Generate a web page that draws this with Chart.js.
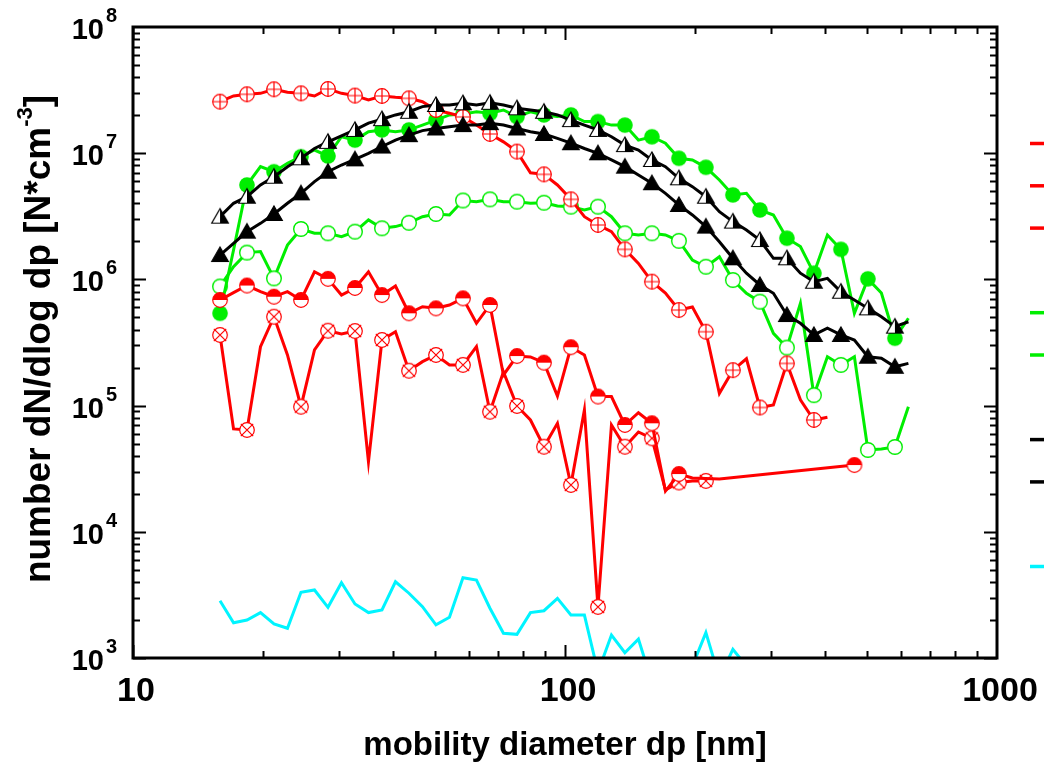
<!DOCTYPE html>
<html>
<head>
<meta charset="utf-8">
<script src="https://cdn.jsdelivr.net/npm/chart.js@4.4.1/dist/chart.umd.min.js"></script>
<style>
  html, body { margin: 0; padding: 0; background: #fff; }
  #wrap { width: 1044px; height: 769px; }
</style>
</head>
<body>
<div id="wrap"><canvas id="chartSize" width="1044" height="769"></canvas></div>
<script>
// mobility diameter of each size channel [nm]
const diameters = [15.9, 17.09, 18.36, 19.73, 21.2, 22.78, 24.48, 26.31, 28.27, 30.38,
  32.65, 35.08, 37.7, 40.51, 43.53, 46.78, 50.27, 54.02, 58.05, 62.38,
  67.03, 72.03, 77.41, 83.18, 89.39, 96.05, 103.2, 110.9, 119.2, 128.1,
  137.6, 147.9, 158.9, 170.8, 183.5, 197.2, 211.9, 227.7, 244.7, 263.0,
  282.6, 303.7, 326.3, 350.7, 376.8, 405.0, 435.2, 467.6, 502.5, 540.0,
  580.3, 623.6];

// dN/dlog dp per channel, one array per run (null = no value)
const redPlusCircle = [2.56e7, 2.84e7, 2.93e7, 2.98e7, 3.21e7, 3.04e7, 2.98e7, 2.84e7, 3.23e7, 2.98e7,
  2.86e7, 2.64e7, 2.84e7, 2.77e7, 2.72e7, 2.56e7, 2.20e7, 2.07e7, 1.94e7, 1.67e7,
  1.42e7, 1.23e7, 1.03e7, 7.0e6, 6.8e6, 5.6e6, 4.31e6, 3.14e6, 2.70e6, 2.39e6,
  1.73e6, 1.34e6, 9.6e5, 7.8e5, 5.72e5, 6.05e5, 3.85e5, 1.25e5, 1.91e5, 2.35e5,
  9.66e4, 1.01e5, 2.16e5, 1.11e5, 7.69e4, 8.08e4];
const redHalfCircle = [6.87e5, 7.85e5, 8.94e5, 7.99e5, 7.29e5, 7.99e5, 6.87e5, 1.15e6, 1.01e6, 7.52e5,
  8.55e5, 1.15e6, 7.52e5, 8.86e5, 5.39e5, 6.08e5, 5.90e5, 6.27e5, 7.08e5, 4.49e5,
  6.27e5, 1.75e5, 2.47e5, 2.43e5, 2.19e5, 1.19e5, 2.90e5, 2.52e5, 1.18e5, 1.18e5,
  7.02e4, 8.78e4, 7.24e4, 2.10e4, 2.87e4, 2.67e4, null, 2.62e4, null, null,
  null, null, null, null, null, null, null, 3.38e4];
const redXCircle = [3.63e5, 6.53e4, 6.41e4, 2.93e5, 5.06e5, 2.52e5, 9.80e4, 2.76e5, 3.92e5, 3.69e5,
  3.90e5, 3.59e4, 3.31e5, 3.85e5, 1.89e5, 2.23e5, 2.52e5, 2.10e5, 2.10e5, 2.93e5,
  8.94e4, 1.85e5, 9.93e4, 7.69e4, 4.72e4, 7.24e4, 2.35e4, 9.23e4, 2.54e3, 7.02e4,
  4.72e4, 6.18e4, 5.51e4, 2.14e4, 2.46e4, 2.53e4, 2.53e4];
const greenDot = [5.39e5, 1.71e6, 5.60e6, 7.82e6, 7.13e6, 8.32e6, 9.38e6, 1.06e7, 9.50e6, 1.35e7,
  1.27e7, 1.48e7, 1.53e7, 1.48e7, 1.53e7, 1.67e7, 1.83e7, 2.01e7, 2.04e7, 2.13e7,
  2.07e7, 2.20e7, 1.95e7, 2.13e7, 2.01e7, 1.95e7, 2.01e7, 1.78e7, 1.78e7, 1.67e7,
  1.67e7, 1.27e7, 1.35e7, 1.20e7, 9.11e6, 8.84e6, 7.73e6, 6.13e6, 4.67e6, 4.81e6,
  3.55e6, 3.24e6, 2.12e6, 1.82e6, 1.12e6, 2.25e6, 1.73e6, 5.39e5, 1.01e6, 7.80e5,
  3.42e5, 4.92e5];
const greenOpen = [8.79e5, 1.26e6, 1.63e6, 1.66e6, 1.02e6, 1.87e6, 2.51e6, 2.32e6, 2.32e6, 2.18e6,
  2.39e6, 2.96e6, 2.54e6, 2.62e6, 2.81e6, 3.14e6, 3.30e6, 3.24e6, 4.22e6, 4.13e6,
  4.31e6, 4.13e6, 4.13e6, 4.01e6, 4.05e6, 3.82e6, 3.77e6, 3.55e6, 3.77e6, 3.14e6,
  2.32e6, 2.25e6, 2.32e6, 2.25e6, 2.02e6, 1.42e6, 1.26e6, 1.51e6, 9.89e5, 7.76e5,
  6.66e5, 3.74e5, 2.88e5, 6.47e5, 1.21e5, 2.44e5, 2.10e5, 2.44e5, 4.45e4, 4.53e4,
  4.70e4, 9.80e4];
const blackHalfTri = [3.14e6, 4.01e6, 4.52e6, 5.60e6, 6.51e6, 7.82e6, 9.11e6, 1.09e7, 1.23e7, 1.37e7,
  1.53e7, 1.73e7, 1.86e7, 2.01e7, 2.13e7, 2.34e7, 2.41e7, 2.41e7, 2.49e7, 2.41e7,
  2.51e7, 2.41e7, 2.27e7, 2.20e7, 2.13e7, 2.01e7, 1.83e7, 1.67e7, 1.53e7, 1.35e7,
  1.16e7, 1.06e7, 8.84e6, 7.82e6, 6.33e6, 5.43e6, 4.52e6, 3.44e6, 2.87e6, 2.46e6,
  2.05e6, 1.47e6, 1.47e6, 1.12e6, 9.59e5, 1.02e6, 7.99e5, 6.87e5, 5.90e5, 5.06e5,
  4.22e5, 4.62e5];
const blackTri = [1.56e6, 1.93e6, 2.39e6, 2.78e6, 3.30e6, 4.01e6, 4.81e6, 5.95e6, 7.13e6, 8.06e6,
  8.94e6, 9.98e6, 1.13e7, 1.27e7, 1.39e7, 1.51e7, 1.57e7, 1.62e7, 1.67e7, 1.67e7,
  1.73e7, 1.67e7, 1.57e7, 1.48e7, 1.42e7, 1.31e7, 1.20e7, 1.09e7, 9.98e6, 8.84e6,
  7.82e6, 6.72e6, 5.78e6, 4.81e6, 3.89e6, 3.24e6, 2.62e6, 1.99e6, 1.47e6, 1.12e6,
  9.03e5, 7.76e5, 5.22e5, 4.49e5, 3.63e5, 4.10e5, 3.63e5, 3.31e5, 2.44e5, 2.37e5,
  2.03e5, 2.16e5];
const cyanLine = [2.84e3, 1.90e3, 2.00e3, 2.29e3, 1.86e3, 1.72e3, 3.32e3, 3.46e3, 2.52e3, 3.95e3,
  2.68e3, 2.29e3, 2.40e3, 4.02e3, 3.26e3, 2.55e3, 1.83e3, 2.10e3, 4.33e3, 4.15e3,
  2.48e3, 1.57e3, 1.54e3, 2.29e3, 2.37e3, 2.97e3, 2.19e3, 2.19e3, 774, 1.52e3,
  1.10e3, 1.41e3, 645, 509, 557, 864, 1.59e3, 694, 1.17e3, 864];

// axis ticks
const xTickValues = [10, 100, 1000];
const xTickLabels = ['10', '100', '1000'];
const yTickValues = [1e3, 1e4, 1e5, 1e6, 1e7, 1e8];
const yTickExponents = ['3', '4', '5', '6', '7', '8'];

const FONT = "'Liberation Sans', Arial, Helvetica, sans-serif";
const RED = '#ff0000', GREEN = '#00ee00', BLACK = '#000000', CYAN = '#00f4ff';

// marker images
function marker(kind) {
  const c = document.createElement('canvas');
  c.width = 20; c.height = 20;
  const g = c.getContext('2d');
  g.lineWidth = 1.2;
  const circle = () => { g.beginPath(); g.arc(10, 10, 7.3, 0, Math.PI * 2); };
  const tri = () => { g.beginPath(); g.moveTo(10, 2); g.lineTo(18.3, 16.5); g.lineTo(1.7, 16.5); g.closePath(); };
  if (kind === 'plus' || kind === 'x') {
    g.strokeStyle = RED; g.fillStyle = '#fff';
    circle(); g.fill(); g.stroke();
    g.beginPath();
    if (kind === 'plus') { g.moveTo(10, 2.5); g.lineTo(10, 17.5); g.moveTo(2.5, 10); g.lineTo(17.5, 10); }
    else { g.moveTo(3.8, 3.8); g.lineTo(16.2, 16.2); g.moveTo(16.2, 3.8); g.lineTo(3.8, 16.2); }
    g.stroke();
  } else if (kind === 'half') {
    g.strokeStyle = RED; g.fillStyle = '#fff';
    circle(); g.fill();
    g.fillStyle = RED;
    g.beginPath(); g.arc(10, 10, 7.3, Math.PI, Math.PI * 2); g.closePath(); g.fill();
    circle(); g.stroke();
  } else if (kind === 'dot') {
    g.fillStyle = GREEN; g.beginPath(); g.arc(10, 10, 7.8, 0, Math.PI * 2); g.fill();
  } else if (kind === 'open') {
    g.strokeStyle = GREEN; g.fillStyle = '#fff'; g.lineWidth = 1.4;
    circle(); g.fill(); g.stroke();
  } else if (kind === 'halftri') {
    g.fillStyle = '#fff'; tri(); g.fill();
    g.save(); g.beginPath(); g.rect(10, 0, 10, 20); g.clip();
    g.fillStyle = BLACK; tri(); g.fill(); g.restore();
    g.strokeStyle = BLACK; tri(); g.stroke();
  } else if (kind === 'tri') {
    g.fillStyle = BLACK; tri(); g.fill();
    g.strokeStyle = BLACK; g.stroke();
  }
  return c;
}

function series(label, values, color, kind, order, legendRow, extraMark) {
  return {
    label: label,
    data: diameters.map((d, i) => ({ x: d, y: values[i] === undefined ? null : values[i] })),
    borderColor: color,
    backgroundColor: color,
    borderWidth: 3,
    tension: 0,
    spanGaps: true,
    pointStyle: kind ? marker(kind) : 'circle',
    pointRadius: ctx => (kind && (ctx.dataIndex % 2 === 0 || ctx.dataIndex === extraMark)) ? 8 : 0,
    order: order,
    legendRow: legendRow
  };
}

const datasets = [
  series('run 1', redPlusCircle, RED, 'plus', 2, 0),
  series('run 2', redHalfCircle, RED, 'half', 2, 1, 47),
  series('run 3', redXCircle, RED, 'x', 2, 2),
  series('run 4', greenDot, GREEN, 'dot', 3, 4),
  series('run 5', greenOpen, GREEN, 'open', 3, 5),
  series('run 6', blackHalfTri, BLACK, 'halftri', 1, 7),
  series('run 7', blackTri, BLACK, 'tri', 1, 8),
  series('run 8', cyanLine, CYAN, null, 4, 10)
];

// frame, inward ticks, tick labels, axis titles and the clipped legend strokes
const axesPlugin = {
  id: 'axesPlugin',
  afterDraw(chart) {
    const ctx = chart.ctx;
    const a = chart.chartArea;
    const xs = chart.scales.x, ys = chart.scales.y;
    ctx.save();
    ctx.strokeStyle = '#000';
    ctx.lineWidth = 2;
    ctx.beginPath();
    for (let dec = 10; dec < 1000; dec *= 10) {
      for (let m = 1; m <= 9; m++) {
        const px = Math.round(xs.getPixelForValue(dec * m)) + 0.5;
        const len = m === 1 ? 13 : 7;
        ctx.moveTo(px, a.bottom); ctx.lineTo(px, a.bottom - len);
        ctx.moveTo(px, a.top); ctx.lineTo(px, a.top + len);
      }
    }
    for (let dec = 1e3; dec < 1e8; dec *= 10) {
      for (let m = 1; m <= 9; m++) {
        const py = Math.round(ys.getPixelForValue(dec * m)) + 0.5;
        const len = m === 1 ? 13 : 7;
        ctx.moveTo(a.left, py); ctx.lineTo(a.left + len, py);
        ctx.moveTo(a.right, py); ctx.lineTo(a.right - len, py);
      }
    }
    ctx.stroke();
    ctx.lineWidth = 3;
    ctx.strokeRect(a.left, a.top, a.right - a.left, a.bottom - a.top);

    ctx.fillStyle = '#000';
    ctx.textBaseline = 'alphabetic';
    // x tick labels
    ctx.font = 'bold 34px ' + FONT;
    ctx.textAlign = 'center';
    xTickValues.forEach((v, i) => {
      ctx.fillText(xTickLabels[i], xs.getPixelForValue(v) + 3, a.bottom + 43);
    });
    // y tick labels 10^n
    yTickValues.forEach((v, i) => {
      const py = ys.getPixelForValue(v);
      ctx.font = 'bold 29px ' + FONT;
      ctx.textAlign = 'right';
      ctx.fillText('10', 104, py + 12);
      ctx.font = 'bold 20px ' + FONT;
      ctx.textAlign = 'left';
      ctx.fillText(yTickExponents[i], 106, py - 5);
    });
    // x title
    ctx.font = 'bold 33px ' + FONT;
    ctx.textAlign = 'center';
    ctx.fillText('mobility diameter dp [nm]', (a.left + a.right) / 2, 755);
    // y title with superscript
    ctx.translate(50, 339);
    ctx.rotate(-Math.PI / 2);
    ctx.textAlign = 'left';
    const main = 'number dN/dlog dp [N*cm', sup = '-3', tail = ']';
    ctx.font = 'bold 37px ' + FONT;
    const w1 = ctx.measureText(main).width, w3 = ctx.measureText(tail).width;
    ctx.font = 'bold 22px ' + FONT;
    const w2 = ctx.measureText(sup).width;
    const x0 = -(w1 + w2 + w3) / 2;
    ctx.font = 'bold 37px ' + FONT;
    ctx.fillText(main, x0, 0);
    ctx.fillText(tail, x0 + w1 + w2, 0);
    ctx.font = 'bold 22px ' + FONT;
    ctx.fillText(sup, x0 + w1, -18);
    ctx.restore();

    // legend strokes (text lies outside the page)
    ctx.save();
    ctx.lineWidth = 3.5;
    chart.data.datasets.forEach(ds => {
      const y = 143.5 + ds.legendRow * 42.3;
      ctx.strokeStyle = ds.borderColor;
      ctx.beginPath(); ctx.moveTo(1030, y); ctx.lineTo(1046, y); ctx.stroke();
    });
    ctx.restore();
  }
};

new Chart(document.getElementById('chartSize').getContext('2d'), {
  type: 'line',
  data: { datasets: datasets },
  options: {
    responsive: false,
    animation: false,
    events: [],
    layout: { padding: { left: 133, right: 47, top: 27, bottom: 111 } },
    plugins: { legend: { display: false }, tooltip: { enabled: false } },
    scales: {
      x: { type: 'logarithmic', min: 10, max: 1000, display: false },
      y: { type: 'logarithmic', min: 1e3, max: 1e8, display: false }
    }
  },
  plugins: [axesPlugin]
});
</script>
</body>
</html>
